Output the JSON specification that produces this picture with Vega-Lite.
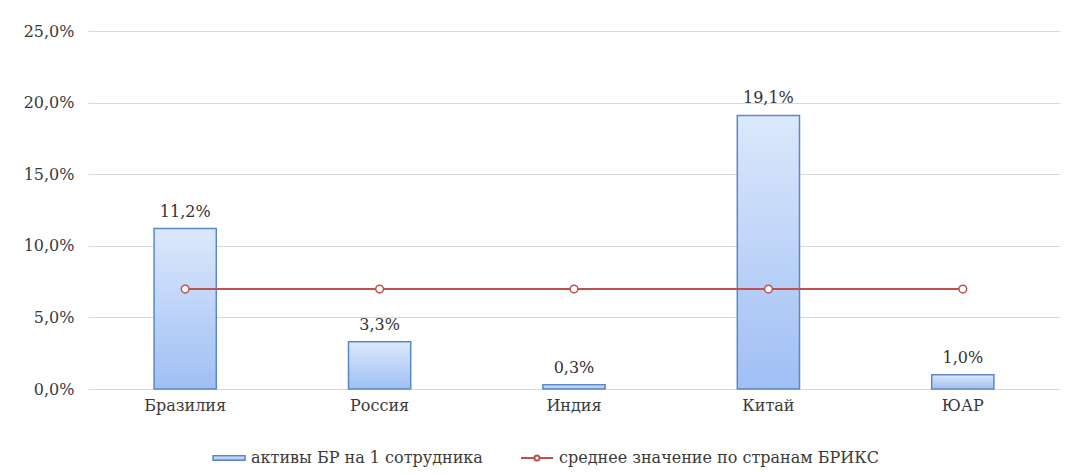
{
  "$schema": "https://vega.github.io/schema/vega-lite/v6.json",
  "width": 972,
  "height": 358,
  "autosize": {"type": "none"},
  "padding": {"left": 88, "top": 31, "right": 10, "bottom": 86},
  "background": "white",
  "config": {
    "locale": {"number": {"decimal": ",", "thousands": " ", "grouping": [3], "currency": ["", " ₽"]}},
    "view": {"stroke": null},
    "font": "DejaVu Serif"
  },
  "data": {
    "values": [
      {"country": "Бразилия", "value": 0.112, "avg": 0.0698},
      {"country": "Россия", "value": 0.033, "avg": 0.0698},
      {"country": "Индия", "value": 0.003, "avg": 0.0698},
      {"country": "Китай", "value": 0.191, "avg": 0.0698},
      {"country": "ЮАР", "value": 0.010, "avg": 0.0698}
    ]
  },
  "encoding": {
    "x": {
      "field": "country", "type": "nominal", "sort": null,
      "scale": {"paddingInner": 0.68, "paddingOuter": 0.34},
      "axis": {"title": null, "labelAngle": 0, "ticks": false, "domain": false, "labelPadding": 8, "labelFontSize": 16, "labelColor": "#3a3a3a", "labelFont": "DejaVu Serif"}
    }
  },
  "layer": [
    {
      "mark": {
        "type": "bar",
        "strokeWidth": 1.5,
        "fill": {"gradient": "linear", "x1": 0, "y1": 0, "x2": 0, "y2": 1, "stops": [{"offset": 0, "color": "#dce8fc"}, {"offset": 1, "color": "#9fbff4"}]}
      },
      "encoding": {
        "y": {
          "field": "value", "type": "quantitative",
          "scale": {"domain": [0, 0.25], "nice": false},
          "axis": {"title": null, "format": ".1%", "values": [0, 0.05, 0.1, 0.15, 0.2, 0.25], "domain": false, "ticks": false, "labelPadding": 14, "gridColor": "#d9d9d9", "labelFontSize": 16, "labelColor": "#3a3a3a", "labelFont": "DejaVu Serif"}
        },
        "stroke": {
          "datum": "активы БР на 1 сотрудника", "type": "nominal",
          "scale": {"domain": ["активы БР на 1 сотрудника"], "range": ["#5b87c6"]},
          "legend": {
            "title": null, "orient": "none", "direction": "horizontal", "legendX": 124, "legendY": 410,
            "labelFont": "DejaVu Serif", "labelFontSize": 16, "labelColor": "#3a3a3a", "labelLimit": 0,
            "symbolSize": 1024, "symbolType": "M-1,-0.14H1V0.14H-1Z", "symbolStrokeWidth": 1.5, "labelOffset": 5
          }
        }
      }
    },
    {
      "mark": {"type": "text", "baseline": "bottom", "dy": -9, "fontSize": 16, "color": "#333333", "font": "DejaVu Serif"},
      "encoding": {
        "y": {"field": "value", "type": "quantitative"},
        "text": {"field": "value", "type": "quantitative", "format": ".1%"}
      }
    },
    {
      "mark": {"type": "line", "strokeWidth": 2},
      "encoding": {
        "y": {"field": "avg", "type": "quantitative"},
        "color": {
          "datum": "среднее значение по странам БРИКС", "type": "nominal",
          "scale": {"domain": ["среднее значение по странам БРИКС"], "range": ["#c0504d"]},
          "legend": {
            "title": null, "orient": "none", "direction": "horizontal", "legendX": 432, "legendY": 410,
            "labelFont": "DejaVu Serif", "labelFontSize": 16, "labelColor": "#3a3a3a", "labelLimit": 0,
            "symbolSize": 1024, "symbolType": "M-1,0H-0.16M0.16,0H1M0.16,0A0.16,0.16 0 1,1 -0.16,0A0.16,0.16 0 1,1 0.16,0",
            "symbolStrokeWidth": 2, "labelOffset": 5
          }
        }
      }
    },
    {
      "mark": {"type": "point", "shape": "circle", "filled": false, "fill": "white", "stroke": "#c0504d", "strokeWidth": 1.5, "size": 60, "opacity": 1},
      "encoding": {
        "y": {"field": "avg", "type": "quantitative"}
      }
    }
  ]
}
